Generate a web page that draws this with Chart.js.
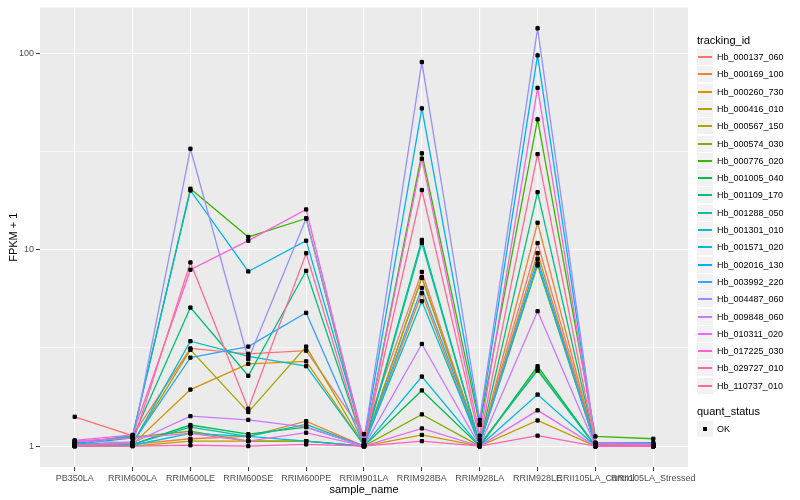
<!DOCTYPE html>
<html lang="en">
<head>
    <meta charset="UTF-8">
    <title>FPKM by sample</title>
    <script src="https://cdn.jsdelivr.net/npm/chart.js"></script>
    <style>
        body { margin: 0; background: #fff; font-family: "Liberation Sans", Arial, sans-serif; }
        #wrap { position: relative; width: 800px; height: 500px; }
        #legend { position: absolute; left: 697px; top: 0; width: 103px; height: 500px; color: #000; }
        .leg-title { position: absolute; left: 0; font-size: 11px; white-space: nowrap; }
        .leg-key { position: absolute; left: 0; width: 16px; height: 16px; background: #f2f2f2; }
        .leg-key .ln { position: absolute; left: 1px; right: 1px; top: 7px; height: 2px; }
        .leg-key .pt { position: absolute; left: 6px; top: 6px; width: 4px; height: 4px; background: #000; }
        .leg-text { position: absolute; left: 20px; font-size: 9px; white-space: nowrap; }
    </style>
</head>
<body>
    <div id="wrap">
        <canvas id="chart" width="800" height="500"></canvas>
        <div id="legend"></div>
    </div>
    <script>
        const categories = ['PB350LA', 'RRIM600LA', 'RRIM600LE', 'RRIM600SE', 'RRIM600PE', 'RRIM901LA',
            'RRIM928BA', 'RRIM928LA', 'RRIM928LE', 'RRII105LA_Control', 'RRII105LA_Stressed'];

        const trackingIds = ['Hb_000137_060', 'Hb_000169_100', 'Hb_000260_730', 'Hb_000416_010', 'Hb_000567_150',
            'Hb_000574_030', 'Hb_000776_020', 'Hb_001005_040', 'Hb_001109_170', 'Hb_001288_050',
            'Hb_001301_010', 'Hb_001571_020', 'Hb_002016_130', 'Hb_003992_220', 'Hb_004487_060',
            'Hb_009848_060', 'Hb_010311_020', 'Hb_017225_030', 'Hb_029727_010', 'Hb_110737_010'];

        const colors = ['#F8766D', '#EA8331', '#D89000', '#C09B00', '#A3A500', '#7CAE00', '#39B600', '#00BB4E',
            '#00BF7D', '#00C1A3', '#00BFC4', '#00BAE0', '#00B0F6', '#35A2FF', '#9590FF', '#C77CFF',
            '#E76BF3', '#FA62DB', '#FF62BC', '#FF6C91'];

        // FPKM + 1, one value per sample (same order as categories)
        const hb_000137_060 = [1.41, 1.13, 3.14, 2.95, 3.06, 1.15, 7.7, 1.03, 10.8, 1.02, 1.01];
        const hb_000169_100 = [1.0, 1.02, 1.09, 1.12, 1.34, 1.0, 6.0, 1.0, 13.7, 1.0, 1.0];
        const hb_000260_730 = [1.01, 1.02, 1.94, 2.62, 2.70, 1.01, 7.18, 1.02, 9.6, 1.01, 1.0];
        const hb_000416_010 = [1.0, 1.0, 1.06, 1.06, 1.06, 1.0, 1.14, 1.0, 1.35, 1.0, 1.0];
        const hb_000567_150 = [1.02, 1.03, 3.09, 1.49, 3.21, 1.01, 7.24, 1.03, 8.3, 1.02, 1.01];
        const hb_000574_030 = [1.05, 1.11, 1.19, 1.06, 1.06, 1.0, 1.45, 1.0, 2.47, 1.0, 1.0];
        const hb_000776_020 = [1.04, 1.12, 20.4, 11.6, 14.4, 1.02, 30.9, 1.28, 46, 1.12, 1.09];
        const hb_001005_040 = [1.01, 1.02, 1.28, 1.15, 1.25, 1.0, 1.92, 1.0, 2.55, 1.0, 1.0];
        const hb_001109_170 = [1.02, 1.10, 5.07, 2.28, 7.8, 1.02, 11.2, 1.03, 19.6, 1.01, 1.0];
        const hb_001288_050 = [1.0, 1.02, 1.25, 1.12, 1.29, 1.0, 10.8, 1.02, 2.42, 1.0, 1.0];
        const hb_001301_010 = [1.01, 1.03, 3.42, 2.86, 2.55, 1.01, 5.46, 1.02, 8.5, 1.01, 1.0];
        const hb_001571_020 = [1.0, 1.01, 1.16, 1.12, 1.06, 1.0, 2.26, 1.0, 1.83, 1.0, 1.0];
        const hb_002016_130 = [1.03, 1.13, 20.0, 7.74, 11.1, 1.07, 52.3, 1.30, 97.3, 1.04, 1.04];
        const hb_003992_220 = [1.02, 1.04, 2.82, 3.21, 4.77, 1.01, 6.38, 1.03, 8.97, 1.01, 1.01];
        const hb_004487_060 = [1.01, 1.05, 32.6, 2.77, 14.4, 1.07, 90, 1.36, 133.7, 1.04, 1.03];
        const hb_009848_060 = [1.06, 1.04, 1.42, 1.36, 1.25, 1.0, 3.31, 1.0, 4.86, 1.0, 1.0];
        const hb_010311_020 = [1.06, 1.10, 1.16, 1.06, 1.17, 1.0, 1.23, 1.0, 1.52, 1.0, 1.0];
        const hb_017225_030 = [1.07, 1.14, 7.9, 11.1, 16.0, 1.02, 29, 1.13, 66.5, 1.03, 1.02];
        const hb_029727_010 = [1.0, 1.0, 1.01, 1.0, 1.02, 1.0, 1.06, 1.0, 1.13, 1.0, 1.0];
        const hb_110737_010 = [1.01, 1.03, 8.6, 1.55, 9.58, 1.01, 20.1, 1.08, 30.6, 1.01, 1.0];

        const seriesValues = [hb_000137_060, hb_000169_100, hb_000260_730, hb_000416_010, hb_000567_150,
            hb_000574_030, hb_000776_020, hb_001005_040, hb_001109_170, hb_001288_050,
            hb_001301_010, hb_001571_020, hb_002016_130, hb_003992_220, hb_004487_060,
            hb_009848_060, hb_010311_020, hb_017225_030, hb_029727_010, hb_110737_010];

        const yTicks = [1, 3.1623, 10, 31.623, 100];
        const yLabels = ['1', '', '10', '', '100'];

        // ggplot-style 5% expansion on the log10 range
        const allVals = seriesValues.flat();
        const lo = Math.log10(Math.min(...allVals));
        const hi = Math.log10(Math.max(...allVals));
        const pad = (hi - lo) * 0.05;

        const lineSets = seriesValues.map((vals, i) => ({
            label: trackingIds[i],
            data: vals.map((v, j) => ({ x: j, y: v })),
            borderColor: colors[i],
            backgroundColor: colors[i],
            borderWidth: 1.3,
            pointRadius: 0,
            fill: false,
            tension: 0,
            order: 40 - i
        }));

        const pointSet = {
            label: 'OK',
            type: 'scatter',
            data: seriesValues.flatMap(vals => vals.map((v, j) => ({ x: j, y: v }))),
            backgroundColor: '#000',
            borderColor: '#000',
            pointRadius: 2.3,
            pointStyle: 'rect',
            showLine: false,
            order: 0
        };

        const panelBg = {
            id: 'panelBg',
            beforeDraw(chart) {
                const a = chart.chartArea;
                const c = chart.ctx;
                c.save();
                c.fillStyle = '#EBEBEB';
                c.fillRect(a.left, a.top, a.right - a.left, a.bottom - a.top);
                c.restore();
            }
        };

        new Chart(document.getElementById('chart').getContext('2d'), {
            type: 'line',
            data: { datasets: [...lineSets, pointSet] },
            plugins: [panelBg],
            options: {
                responsive: false,
                animation: false,
                layout: { padding: { top: 0, right: 112, left: 0, bottom: 0 } },
                plugins: { legend: { display: false }, tooltip: { enabled: false } },
                scales: {
                    x: {
                        type: 'linear',
                        min: -0.6,
                        max: categories.length - 1 + 0.6,
                        afterBuildTicks: s => { s.ticks = categories.map((c, i) => ({ value: i })); },
                        afterFit: s => { s.height = 33; },
                        ticks: {
                            autoSkip: false,
                            maxRotation: 0,
                            padding: 2,
                            color: '#4D4D4D',
                            font: { family: 'Liberation Sans', size: 9 },
                            callback: v => categories[v]
                        },
                        grid: { color: '#fff', lineWidth: 1.1, tickColor: '#333', tickLength: 4, tickWidth: 1 },
                        border: { display: false },
                        title: {
                            display: true, text: 'sample_name', color: '#000',
                            font: { family: 'Liberation Sans', size: 11 }, padding: { top: 0, bottom: 3 }
                        }
                    },
                    y: {
                        type: 'logarithmic',
                        min: Math.pow(10, lo - pad),
                        max: Math.pow(10, hi + pad),
                        afterBuildTicks: s => { s.ticks = yTicks.map(v => ({ value: v })); },
                        afterFit: s => { s.width = 40; },
                        ticks: {
                            autoSkip: false,
                            padding: 2,
                            color: '#4D4D4D',
                            font: { family: 'Liberation Sans', size: 9 },
                            callback: (v, i) => yLabels[i]
                        },
                        grid: {
                            color: '#fff',
                            lineWidth: ctx => (ctx.index % 2 === 0 ? 1.1 : 0.55),
                            tickColor: ctx => (ctx.index % 2 === 0 ? '#333' : 'rgba(0,0,0,0)'),
                            tickLength: 4,
                            tickWidth: 1
                        },
                        border: { display: false },
                        title: {
                            display: true, text: 'FPKM + 1', color: '#000',
                            font: { family: 'Liberation Sans', size: 11 }, padding: { top: 7, bottom: 0 }
                        }
                    }
                }
            }
        });

        // ggplot-like legends on the right
        const legend = document.getElementById('legend');
        function add(cls, top, html) {
            const d = document.createElement('div');
            d.className = cls;
            d.style.top = Math.round(top) + 'px';
            d.innerHTML = html;
            legend.appendChild(d);
            return d;
        }
        add('leg-title', 34, 'tracking_id');
        const keyTop = 49, keyStep = 17.3;
        trackingIds.forEach((id, i) => {
            const t = keyTop + i * keyStep;
            add('leg-key', t, '<div class="ln" style="background:' + colors[i] + '"></div>');
            add('leg-text', t + 3, id);
        });
        add('leg-title', 405, 'quant_status');
        add('leg-key', 421, '<div class="pt"></div>');
        add('leg-text', 424, 'OK');
    </script>
</body>
</html>
